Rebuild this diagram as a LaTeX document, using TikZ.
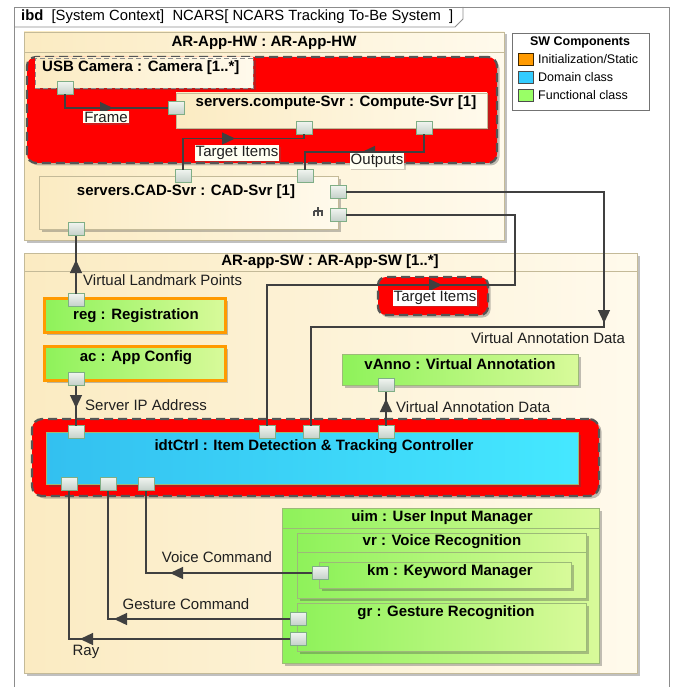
\documentclass[tikz,border=0pt]{standalone}
\usepackage{fontspec}
\setmainfont{Liberation Sans}
\usetikzlibrary{arrows.meta,decorations.markings,shadows}

\definecolor{frameln}{HTML}{8C8C8C}
\definecolor{creamL}{HTML}{FBEBC2}
\definecolor{creamR}{HTML}{FFFAEC}
\definecolor{creamln}{HTML}{C4BA98}
\definecolor{grnL}{HTML}{8EF25A}
\definecolor{grnR}{HTML}{D8FA9A}
\definecolor{grnln}{HTML}{9CBA78}
\definecolor{cyL}{HTML}{33C0F0}
\definecolor{cyR}{HTML}{45E8FF}
\definecolor{hotred}{HTML}{FF0000}
\definecolor{dashln}{HTML}{555555}
\definecolor{orng}{HTML}{FF9A00}
\definecolor{wire}{HTML}{404040}
\definecolor{portL}{HTML}{F0F4F0}
\definecolor{portR}{HTML}{C4D0C8}
\definecolor{portln}{HTML}{7FAE86}
\definecolor{tagbg}{HTML}{FFFFF2}

% a block given by its corners: name, style, x1, y1, x2, y2
\newcommand\mkbox[6]{%
  \node[#2, anchor=north west, minimum width={(#5)-(#3)},
        minimum height={(#6)-(#4)}, inner sep=0pt, outer sep=0pt]
        (#1) at (#3,#4) {};}

\begin{document}
\begin{tikzpicture}[x=1pt,y=-1pt,
  shadowed/.style={drop shadow={shadow xshift=2.5pt, shadow yshift=-2.5pt,
                   opacity=0.35, fill=black!70}},
  creambox/.style={draw=creamln, line width=0.8pt, left color=creamL,
                   right color=creamR, shadowed},
  usbbox/.style={creambox, draw=black!45, dash pattern=on 5pt off 3pt},
  greenbox/.style={draw=grnln, line width=0.8pt, left color=grnL,
                   right color=grnR, shadowed},
  orangebox/.style={greenbox, draw=orng, line width=3.2pt},
  cyanbox/.style={draw=grnln, line width=0.8pt, left color=cyL,
                  right color=cyR, shadowed},
  hotzone/.style={draw=dashln, fill=hotred, line width=2.2pt,
                  dash pattern=on 9pt off 5pt, rounded corners=9pt, shadowed},
  port/.style={draw=portln, line width=0.8pt, top color=portL,
               bottom color=portR, minimum width=16pt, minimum height=13pt,
               inner sep=0pt, outer sep=0pt},
  conn/.style={draw=wire, line width=1.3pt},
  flowat/.style={postaction={decorate, decoration={markings,
      mark=at position #1pt with {\arrow{Triangle[length=13pt,width=12pt]}}}}},
  ttl/.style={font=\fontsize{15}{17}\selectfont\bfseries, inner sep=0pt},
  lbl/.style={font=\fontsize{15}{17}\selectfont, inner sep=0pt, text=black!88},
  tag/.style={lbl, fill=tagbg, inner sep=1.2pt,
              drop shadow={shadow xshift=1.5pt, shadow yshift=-1.5pt,
                           opacity=0.3, fill=black!60}},
  swatch/.style={draw=black!70, line width=0.8pt, minimum width=15pt,
                 minimum height=12pt, inner sep=0pt},
  legtxt/.style={font=\fontsize{12.5}{14}\selectfont, anchor=west, inner sep=0pt}
]
\useasboundingbox (0,0) rectangle (675,687);
\clip (0,0) rectangle (675,687);
\fill[white] (0,0) rectangle (675,687);

% diagram frame and its name tab
\draw[frameln, line width=0.8pt] (14,7) rectangle (669,700);
\draw[frameln, line width=0.8pt] (14,27) -- (455,27) -- (463,19) -- (463,7);
\node[anchor=west, font=\fontsize{14.8}{16}\selectfont, inner sep=0pt] (hdr) at (21,17)
  {\textbf{ibd}\ \ [System Context]\ \ NCARS[ NCARS Tracking To-Be System\ \ ]};

% ---------------- hardware part ----------------
\mkbox{hw}{creambox}{24}{32}{504}{240}
\draw[creamln, line width=0.8pt] ([yshift=-20pt]hw.north west) -- ([yshift=-20pt]hw.north east);
\node[ttl] (hwT) at (264,43) {AR-App-HW : AR-App-HW};

\mkbox{hot1}{hotzone}{27}{57}{497}{163}
\mkbox{usb}{usbbox}{35}{58}{253}{88}
\node[ttl, anchor=west] (usbT) at (42,68) {USB Camera : Camera [1..*]};
\mkbox{cmp}{creambox}{176}{93}{487}{128}
\node[ttl] (cmpT) at (336,103) {servers.compute-Svr : Compute-Svr [1]};

\mkbox{cad}{creambox}{39}{176}{338}{229}
\node[ttl] (cadT) at (186,192) {servers.CAD-Svr : CAD-Svr [1]};
% structure icon
\draw[black!70, line width=1.2pt] (318,207) -- (318,216) (313.5,211) -- (322.5,211)
  (314,211) -- (314,216) (322,211) -- (322,216);

% ---------------- legend ----------------
\node[draw=black!55, line width=0.8pt, fill=white, anchor=north west,
      minimum width=137pt, minimum height=77pt, inner sep=0pt] (legend) at (512,33) {};
\node[font=\fontsize{12.5}{14}\selectfont\bfseries, inner sep=0pt] (legT) at (580,42) {SW Components};
\node[swatch, fill=orng, draw=black!75!orng] (sw1) at (526,59.5) {};
\node[swatch, fill={rgb,255:red,51;green,204;blue,255}] (sw2) at (526,77.5) {};
\node[swatch, fill={rgb,255:red,153;green,255;blue,102}] (sw3) at (526,95.5) {};
\node[legtxt] (lg1) at (538,59) {Initialization/Static};
\node[legtxt] (lg2) at (538,77) {Domain class};
\node[legtxt] (lg3) at (538,95) {Functional class};

% ---------------- software part ----------------
\mkbox{sw}{creambox}{24}{253}{637}{673}
\draw[creamln, line width=0.8pt] ([yshift=-18pt]sw.north west) -- ([yshift=-18pt]sw.north east);
\node[ttl] (swT) at (330,262) {AR-app-SW : AR-App-SW [1..*]};

\mkbox{hot2}{hotzone, rounded corners=8pt}{378}{277}{488}{315}

\mkbox{reg}{orangebox}{44.6}{298.6}{225.4}{332.4}
\node[ttl] (regT) at (136,316) {reg : Registration};
\mkbox{ac}{orangebox}{44.6}{346.6}{225.4}{380.4}
\node[ttl] (acT) at (136,358) {ac : App Config};
\mkbox{vanno}{greenbox}{342}{354}{578}{385}
\node[ttl] (vannoT) at (460,364) {vAnno : Virtual Annotation};

\mkbox{hot3}{hotzone, rounded corners=10pt}{32}{419}{599}{496}
\mkbox{idt}{cyanbox}{46}{432}{578}{484}
\node[ttl] (idtT) at (314,447) {idtCtrl : Item Detection \& Tracking Controller};

\mkbox{uim}{greenbox}{282}{508}{599}{663}
\draw[grnln, line width=0.8pt] ([yshift=-20pt]uim.north west) -- ([yshift=-20pt]uim.north east);
\node[ttl] (uimT) at (442,518) {uim : User Input Manager};
\mkbox{vr}{greenbox}{297}{533}{586}{598}
\draw[grnln, line width=0.8pt] ([yshift=-19pt]vr.north west) -- ([yshift=-19pt]vr.north east);
\node[ttl] (vrT) at (442,542) {vr : Voice Recognition};
\mkbox{km}{greenbox}{319}{562}{571}{588}
\node[ttl] (kmT) at (450,572) {km : Keyword Manager};
\mkbox{gr}{greenbox}{297}{603}{586}{651}
\node[ttl] (grT) at (446,613) {gr : Gesture Recognition};

% ---------------- ports ----------------
\node[port] (usbp)  at (65,88) {};
\node[port] (cmpin) at (176,108) {};
\node[port] (cmpo1) at (304,128) {};
\node[port] (cmpo2) at (424,128) {};
\node[port] (cadt1) at (183,176) {};
\node[port] (cadt2) at (305,176) {};
\node[port] (cadr1) at (338,192) {};
\node[port] (cadr2) at (338,215) {};
\node[port] (cadb)  at (76,229) {};
\node[port] (regp)  at (76,300) {};
\node[port] (acp)   at (76,379) {};
\node[port] (vannop) at (386,385) {};
\node[port] (idtt1) at (76,432) {};
\node[port] (idtt2) at (267,432) {};
\node[port] (idtt3) at (311,432) {};
\node[port] (idtt4) at (386,432) {};
\node[port] (idtb1) at (69,484) {};
\node[port] (idtb2) at (108,484) {};
\node[port] (idtb3) at (146,484) {};
\node[port] (kmp)   at (320,573) {};
\node[port] (grp1)  at (298,619) {};
\node[port] (grp2)  at (298,639) {};

% ---------------- connectors ----------------
\coordinate (vadR) at (604,327);
\coordinate (tgtR) at (515,285);

\draw[conn, flowat=61.5] (usbp.south) |- (cmpin.west);
\draw[conn, flowat=83] (cadt1.north) |- ([yshift=-4pt]cmpo1.south) -- (cmpo1.south);
\draw[conn, flowat=79.5] (cmpo2.south) -- ++(0,17.5) -| (cadt2.north);
\draw[conn, flowat=389] (cadr1.east) -| (vadR) -| (idtt3.north);
\draw[conn, flowat=315.5] (idtt2.north) |- (tgtR) |- (cadr2.east);
\draw[conn, flowat=33.5] (regp.north) -- (cadb.south);
\draw[conn, flowat=22.5] (acp.south) -- (idtt1.north);
\draw[conn, flowat=26.5] (idtt4.north) -- (vannop.south);
\draw[conn, flowat=142] (kmp.west) -| (idtb3.south);
\draw[conn, flowat=176] (grp1.west) -| (idtb2.south);
\draw[conn, flowat=210] (grp2.west) -| (idtb1.south);

% ---------------- connector labels ----------------
\node[tag] (lFrame) at (106,117) {Frame};
\node[tag] (lTgt1) at (237,153) {Target Items};
\node[tag] (lOut) at (377,161) {Outputs};
\node[lbl, anchor=west] (lVLP) at (83,280) {Virtual Landmark Points};
\node[tag, fill=white] (lTgt2) at (435,298) {Target Items};
\node[lbl] (lVAD1) at (548,338) {Virtual Annotation Data};
\node[lbl, anchor=west] (lSIP) at (85,405) {Server IP Address};
\node[lbl, anchor=west] (lVAD2) at (396,407) {Virtual Annotation Data};
\node[lbl] (lVC) at (217,557) {Voice Command};
\node[lbl] (lGC) at (186,604) {Gesture Command};
\node[lbl] (lRay) at (86,652) {Ray};
\end{tikzpicture}
\end{document}
